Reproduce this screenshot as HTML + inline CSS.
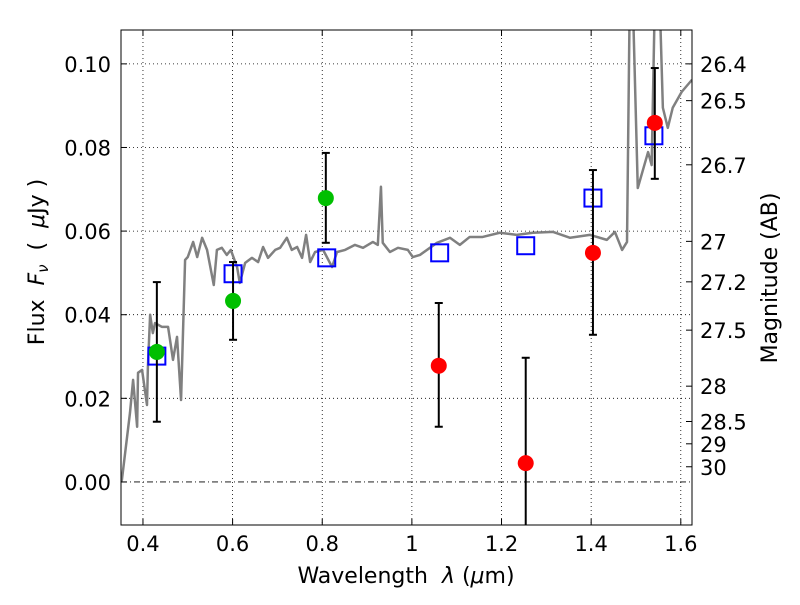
<!DOCTYPE html>
<html><head><meta charset="utf-8"><style>
body{margin:0;background:#fff;}
svg text{font-family:"DejaVu Sans","Liberation Sans",sans-serif;white-space:pre;}
</style></head><body>
<svg id="chart" width="800" height="600" xmlns="http://www.w3.org/2000/svg" xml:space="preserve">
<rect width="800" height="600" fill="#fff"/>
<defs><clipPath id="clip"><rect x="121" y="30" width="571" height="495"/></clipPath></defs>
<g id="grid"></g>
<g id="plot" clip-path="url(#clip)"></g>
<g id="axes"></g>
<text x="406" y="583" font-size="22" text-anchor="middle">Wavelength  <tspan font-style="italic">λ</tspan> (<tspan font-style="italic">μ</tspan>m)</text>
<text transform="translate(44,262) rotate(-90)" font-size="22" text-anchor="middle">Flux  <tspan font-style="italic">F</tspan><tspan font-style="italic" font-size="15" dy="4">ν</tspan><tspan dy="-4">  (  </tspan><tspan font-style="italic">μ</tspan>Jy )</text>
<text transform="translate(777,278) rotate(-90)" font-size="22" text-anchor="middle">Magnitude (AB)</text>
</svg>
<script>
const specLam=[0.351,0.353,0.371,0.378,0.387,0.389,0.398,0.409,0.411,0.416,0.422,0.427,0.442,0.456,0.467,0.476,0.485,0.494,0.500,0.512,0.521,0.532,0.543,0.558,0.565,0.576,0.587,0.596,0.610,0.616,0.628,0.643,0.657,0.668,0.679,0.695,0.706,0.721,0.732,0.744,0.755,0.764,0.773,0.784,0.802,0.822,0.833,0.851,0.873,0.891,0.913,0.924,0.931,0.935,0.951,0.969,0.991,1.002,1.018,1.056,1.085,1.107,1.129,1.158,1.196,1.234,1.270,1.315,1.353,1.397,1.435,1.453,1.469,1.480,1.486,1.493,1.504,1.527,1.535,1.542,1.553,1.560,1.571,1.582,1.602,1.625];
const specFlux=[0.000,0.0005,0.0165,0.0244,0.0132,0.0261,0.0268,0.0184,0.0275,0.0400,0.0356,0.0380,0.0371,0.0371,0.0292,0.0347,0.0196,0.0531,0.0538,0.0574,0.0538,0.0584,0.0555,0.0471,0.0555,0.0560,0.0543,0.0555,0.0514,0.0476,0.0524,0.0536,0.0526,0.0562,0.0536,0.0555,0.0560,0.0584,0.0555,0.0562,0.0536,0.0591,0.0526,0.0550,0.0555,0.0514,0.0550,0.0555,0.0567,0.0560,0.0574,0.0567,0.0706,0.0572,0.0550,0.0560,0.0555,0.0538,0.0543,0.0572,0.0584,0.0567,0.0586,0.0586,0.0596,0.0591,0.0596,0.0598,0.0584,0.0591,0.0579,0.0598,0.0555,0.0574,0.115,0.115,0.0703,0.0789,0.0758,0.115,0.115,0.0895,0.0847,0.0895,0.0933,0.0962];
const modelLam=[0.431,0.601,0.810,1.062,1.254,1.404,1.540];
const modelFlux=[0.0301,0.0498,0.0536,0.0548,0.0565,0.0679,0.0828];
const greenLam=[0.431,0.601,0.808];
const greenFlux=[0.0311,0.0433,0.0679];
const greenHi=[0.0478,0.0526,0.0787];
const greenLo=[0.0144,0.0340,0.0572];
const redLam=[1.060,1.254,1.404,1.542];
const redFlux=[0.0278,0.0045,0.0548,0.0859];
const redHi=[0.0428,0.0297,0.0746,0.0990];
const redLo=[0.0132,-0.02,0.0352,0.0725];
const xTicks=[0.4,0.6,0.8,1.0,1.2,1.4,1.6];
const xTickLabels=["0.4","0.6","0.8","1","1.2","1.4","1.6"];
const yTicks=[0,0.02,0.04,0.06,0.08,0.10];
const yTickLabels=["0.00","0.02","0.04","0.06","0.08","0.10"];
const magTicks=[26.4,26.5,26.7,27,27.2,27.5,28,28.5,29,30];
const magLabels=["26.4","26.5","26.7","27","27.2","27.5","28","28.5","29","30"];

const X0=121,X1=692,Y0=30,Y1=525,xmin=0.351,xmax=1.625,ymin=-0.0103,ymax=0.1081;
const sx=v=>X0+(v-xmin)/(xmax-xmin)*(X1-X0);
const sy=v=>Y1-(v-ymin)/(ymax-ymin)*(Y1-Y0);
const NS="http://www.w3.org/2000/svg";
function mk(tag,parent,attrs){const e=document.createElementNS(NS,tag);for(const k in attrs)e.setAttribute(k,attrs[k]);parent.appendChild(e);return e;}
const grid=document.getElementById('grid'),plot=document.getElementById('plot'),axes=document.getElementById('axes');

xTicks.forEach((t,i)=>{
  const g=mk('line',grid,{x1:sx(t),x2:sx(t),y1:Y0,y2:Y1,stroke:'#000','stroke-width':0.8,'stroke-dasharray':'1,3'});
  
  mk('line',axes,{x1:sx(t),x2:sx(t),y1:Y1,y2:Y1-6,stroke:'#000'});
  mk('line',axes,{x1:sx(t),x2:sx(t),y1:Y0,y2:Y0+6,stroke:'#000'});
  const l=mk('text',axes,{x:sx(t),y:Y1+26,'font-size':21,'text-anchor':'middle'});l.textContent=xTickLabels[i];
  
});
yTicks.forEach((t,i)=>{
  const g=mk('line',grid,{x1:X0,x2:X1,y1:sy(t),y2:sy(t),stroke:'#000','stroke-width':0.8,'stroke-dasharray':t===0?'6,3,1,3':'1,3'});
  
  mk('line',axes,{x1:X0,x2:X0+6,y1:sy(t),y2:sy(t),stroke:'#000'});
  const l=mk('text',axes,{x:X0-10,y:sy(t)+8,'font-size':21,'text-anchor':'end'});l.textContent=yTickLabels[i];
  
});
magTicks.forEach((m,i)=>{
  const f=Math.pow(10,(23.9-m)/2.5);const y=sy(f);
  mk('line',axes,{x1:X1,x2:X1-6,y1:y,y2:y,stroke:'#000'});
  const l=mk('text',axes,{x:X1+8,y:y+8,'font-size':21});l.textContent=magLabels[i];
  
});
const frame=mk('rect',axes,{x:X0,y:Y0,width:X1-X0,height:Y1-Y0,fill:'none',stroke:'#000','stroke-width':1});


const spec=mk('polyline',plot,{points:specLam.map((l,i)=>sx(l)+','+sy(specFlux[i])).join(' '),fill:'none',stroke:'#808080','stroke-width':2.5,'stroke-linejoin':'round'});


modelLam.forEach((l,i)=>{
  const r=mk('rect',plot,{x:sx(l)-8.5,y:sy(modelFlux[i])-8.5,width:17,height:17,fill:'none',stroke:'#0000ff','stroke-width':2});
  
});
function pts(lams,fl,hi,lo,col,name){
  lams.forEach((l,i)=>{
    const x=sx(l);
    const e=mk('g',plot,{stroke:'#000','stroke-width':2});
    
    mk('line',e,{x1:x,x2:x,y1:sy(hi[i]),y2:sy(lo[i])});
    mk('line',e,{x1:x-4,x2:x+4,y1:sy(hi[i]),y2:sy(hi[i])});
    mk('line',e,{x1:x-4,x2:x+4,y1:sy(lo[i]),y2:sy(lo[i])});
    const c=mk('circle',plot,{cx:x,cy:sy(fl[i]),r:8,fill:col});
    
  });
}
pts(greenLam,greenFlux,greenHi,greenLo,'#00bf00','detection');
pts(redLam,redFlux,redHi,redLo,'#ff0000','upper-limit');
</script>
</body></html>
